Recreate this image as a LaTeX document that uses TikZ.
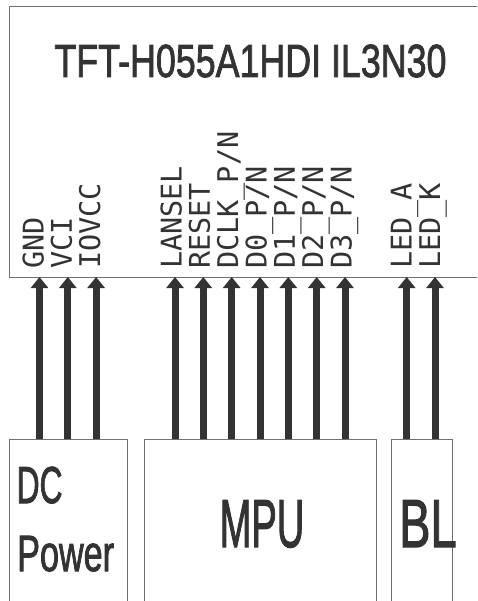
\documentclass[tikz,border=0pt]{standalone}
\usepackage{fontspec}
\setmainfont{Liberation Sans}
\newfontfamily\heavyfont[FakeBold=2]{Liberation Sans}
\newfontfamily\pinfont{DejaVu Sans Mono}
\usetikzlibrary{arrows.meta}
\definecolor{ink}{HTML}{333333}
\definecolor{edge}{HTML}{707070}

\begin{document}
\begin{tikzpicture}[x=1pt, y=-1pt,
  box/.style={draw=edge, line width=1.2pt, anchor=north west, inner sep=0pt},
  sig/.style={draw=ink, line width=7pt, -{Triangle[width=17pt,length=11pt]}},
  pin/.style={text=ink, font=\pinfont\fontsize{28.5}{30}\selectfont, rotate=90, anchor=base west, inner sep=0pt},
  big/.style={text=ink, inner sep=0pt}]
\useasboundingbox (0,0) rectangle (477,601);
\clip (0,0) rectangle (477,601);
% blocks
\node[box, minimum width=486pt, minimum height=271pt] (lcd) at (9,6) {};
\node[box, minimum width=118pt, minimum height=181pt] (dc) at (9,439) {};
\node[box, minimum width=232pt, minimum height=181pt] (mpu) at (144,439) {};
\node[box, minimum width=61pt, minimum height=181pt] (bl) at (391,439) {};
% texts
\node[big, anchor=base, font=\heavyfont\fontsize{46.5}{50}\selectfont] (title) at (250.5,77) {\scalebox{0.77}[1]{TFT-H055A1HDI IL3N30}};
\node[big, anchor=base west, font=\heavyfont\fontsize{52}{56}\selectfont] (dct) at (16.5,503) {\scalebox{0.61}[1]{DC}};
\node[big, anchor=base west, font=\heavyfont\fontsize{51}{55}\selectfont] (pwt) at (17,571) {\scalebox{0.67}[1]{Power}};
\node[big, anchor=base, font=\heavyfont\fontsize{68}{72}\selectfont] (mput) at (262,547) {\scalebox{0.56}[1]{MPU}};
\node[big, anchor=base west, font=\heavyfont\fontsize{68}{72}\selectfont] (blt) at (399,547) {\scalebox{0.69}[1]{BL}};
% pins on the panel edge
\coordinate (p1) at (39.5,277); \coordinate (p2) at (67.8,277); \coordinate (p3) at (96.1,277);
\coordinate (p4) at (175,277); \coordinate (p5) at (203.3,277); \coordinate (p6) at (231.7,277);
\coordinate (p7) at (260,277); \coordinate (p8) at (288.3,277); \coordinate (p9) at (316.7,277);
\coordinate (p10) at (345,277); \coordinate (p11) at (406.7,277); \coordinate (p12) at (435,277);
% pin names
\node[pin] (l1) at ([shift={(4,-8)}]p1) {GND};
\node[pin] (l2) at ([shift={(4,-8)}]p2) {VCI};
\node[pin] (l3) at ([shift={(4,-8)}]p3) {IOVCC};
\node[pin] (l4) at ([shift={(6.5,-8)}]p4) {LANSEL};
\node[pin] (l5) at ([shift={(6.5,-8)}]p5) {RESET};
\node[pin] (l6) at ([shift={(6.5,-8)}]p6) {DCLK\_P/N};
\node[pin] (l7) at ([shift={(6.5,-8)}]p7) {D0\_P/N};
\node[pin] (l8) at ([shift={(6.5,-8)}]p8) {D1\_P/N};
\node[pin] (l9) at ([shift={(6.5,-8)}]p9) {D2\_P/N};
\node[pin] (l10) at ([shift={(6.5,-8)}]p10) {D3\_P/N};
\node[pin] (l11) at ([shift={(5,-8)}]p11) {LED\_A};
\node[pin] (l12) at ([shift={(5,-8)}]p12) {LED\_K};
% signals
\draw[sig] (p1 |- dc.north) -- (p1); \draw[sig] (p2 |- dc.north) -- (p2); \draw[sig] (p3 |- dc.north) -- (p3);
\draw[sig] (p4 |- mpu.north) -- (p4); \draw[sig] (p5 |- mpu.north) -- (p5); \draw[sig] (p6 |- mpu.north) -- (p6);
\draw[sig] (p7 |- mpu.north) -- (p7); \draw[sig] (p8 |- mpu.north) -- (p8); \draw[sig] (p9 |- mpu.north) -- (p9);
\draw[sig] (p10 |- mpu.north) -- (p10);
\draw[sig] (p11 |- bl.north) -- (p11); \draw[sig] (p12 |- bl.north) -- (p12);
\end{tikzpicture}
\end{document}
